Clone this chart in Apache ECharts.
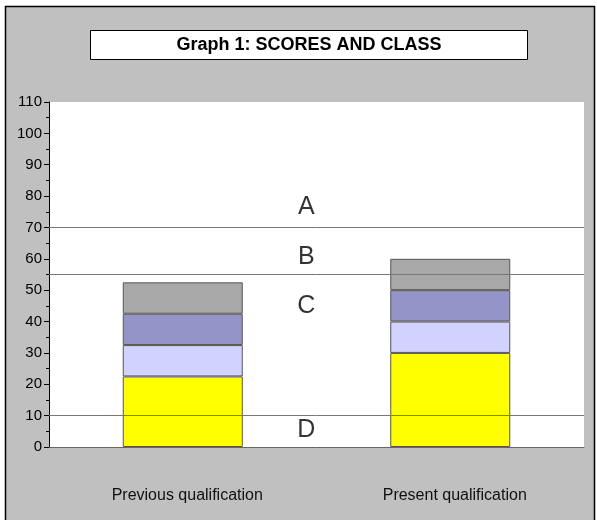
<!DOCTYPE html>
<html>
<head>
<meta charset="utf-8">
<script src="https://cdn.jsdelivr.net/npm/echarts@6/dist/echarts.min.js"></script>
<style>
    html, body { margin: 0; padding: 0; background: #fff; }
    #chart { width: 597px; height: 520px; }
</style>
</head>
<body>
<div id="chart"></div>
<script>
// 数据
const categories = ['Previous qualification', 'Present qualification'];
const part1 = [22.5, 30];
const part2 = [10, 10];
const part3 = [10, 10];
const part4 = [10, 10];
const classBounds = [10, 55, 70];
const classNames = ['A', 'B', 'C', 'D'];
const classNameY = [76.5, 60.5, 45, 5.4];
const yTicks = { min: 0, max: 110, interval: 10 };

const font = "'Liberation Sans', Arial, sans-serif";

function initChart() {
    const chart = echarts.init(document.getElementById('chart'));

    const barBorder = { borderColor: '#555', borderWidth: 1 };
    const colors = ['#ffff00', '#d2d2fe', '#9494c8', '#a8a8a8'];
    const parts = [part1, part2, part3, part4];

    const series = parts.map(function(d, i) {
        return {
            name: 'part' + (i + 1),
            type: 'bar',
            stack: 'score',
            barWidth: 120,
            data: d,
            itemStyle: Object.assign({ color: colors[i] }, barBorder),
            z: 3
        };
    });

    // 等级分界线
    series[0].markLine = {
        silent: true,
        symbol: 'none',
        label: { show: false },
        lineStyle: { color: '#777', width: 1, type: 'solid' },
        data: classBounds.map(v => ({ yAxis: v })),
        z: 5
    };

    // 等级字母
    series.push({
        type: 'scatter',
        xAxisIndex: 1,
        symbolSize: 0,
        data: classNames.map((n, i) => ({ value: [0.481, classNameY[i]], name: n })),
        label: {
            show: true,
            position: 'inside',
            formatter: '{b}',
            fontFamily: font,
            fontSize: 25,
            color: '#000'
        },
        z: 6
    });

    const option = {
        backgroundColor: '#fff',
        animation: false,
        graphic: [
            {
                type: 'rect',
                shape: { x: 5.5, y: 6.5, width: 589, height: 530 },
                style: { fill: '#c0c0c0', stroke: '#000', lineWidth: 1.5 },
                z: -10
            },
            {
                type: 'rect',
                shape: { x: 90.5, y: 30.5, width: 437, height: 29 },
                style: { fill: '#fff', stroke: '#000', lineWidth: 1 }
            },
            {
                type: 'text',
                x: 309,
                y: 45,
                style: {
                    text: 'Graph 1: SCORES AND CLASS',
                    fontFamily: font,
                    fontSize: 18,
                    fontWeight: 'bold',
                    fill: '#000',
                    align: 'center',
                    verticalAlign: 'middle'
                }
            }
        ],
        grid: {
            left: 49,
            right: 13,
            top: 102,
            bottom: 73,
            show: true,
            backgroundColor: '#fff',
            borderWidth: 0
        },
        xAxis: [
            {
                type: 'category',
                data: categories,
                axisLine: { show: true, lineStyle: { color: '#666', width: 1 } },
                axisTick: { show: false },
                axisLabel: {
                    margin: 41,
                    padding: [0, 0, 0, 9],
                    fontFamily: font,
                    fontSize: 16,
                    color: '#111'
                }
            },
            {
                type: 'value',
                min: 0,
                max: 1,
                show: false
            }
        ],
        yAxis: {
            type: 'value',
            min: yTicks.min,
            max: yTicks.max,
            interval: yTicks.interval,
            axisLine: { show: true, lineStyle: { color: '#000', width: 1 } },
            axisTick: { show: true, length: 5, lineStyle: { color: '#000' } },
            minorTick: { show: true, splitNumber: 2, length: 3, lineStyle: { color: '#000' } },
            splitLine: { show: false },
            axisLabel: {
                margin: 7,
                fontFamily: font,
                fontSize: 15,
                color: '#000'
            }
        },
        series: series
    };

    chart.setOption(option);
}

initChart();
</script>
</body>
</html>
